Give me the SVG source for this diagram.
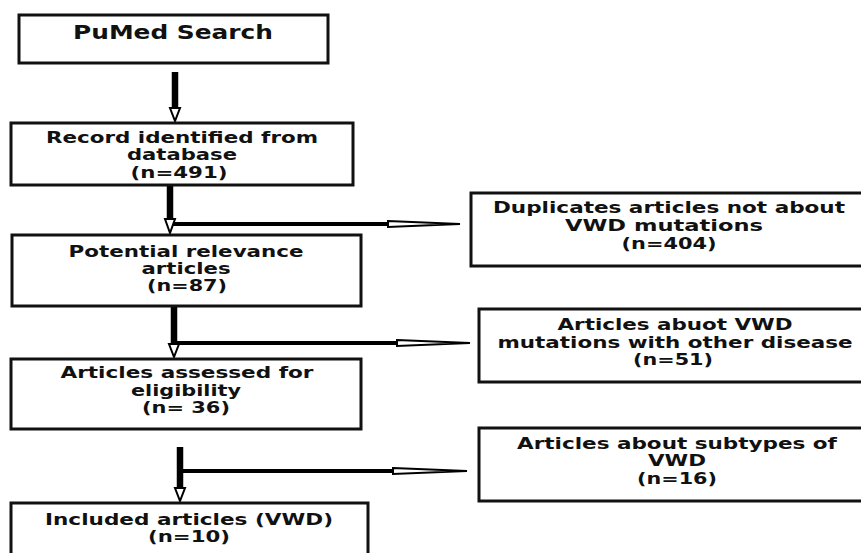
<svg xmlns="http://www.w3.org/2000/svg" width="861" height="553" viewBox="0 0 861 553">
<style>
.box{fill:#fff;stroke:#111;stroke-width:3}
.t{font-family:"DejaVu Sans","Liberation Sans",sans-serif;font-weight:bold;font-size:15px;fill:#111;text-anchor:middle}
.big{font-size:19px}
.shaft{stroke:#000;stroke-width:6.5;fill:none}
.hline{stroke:#000;stroke-width:4;fill:none}
.head{fill:#fff;stroke:#000;stroke-width:2;stroke-linejoin:miter}
</style>
<rect width="861" height="553" fill="#fff"/>
<g id="connectors">
<line class="shaft" x1="175" y1="72" x2="175" y2="110"/>
<polygon class="head" points="170,108 180,108 175,121"/>
<line class="shaft" x1="170" y1="185" x2="170" y2="220"/>
<polygon class="head" points="165,219 175,219 170,233"/>
<line class="hline" x1="173" y1="224" x2="389" y2="224"/>
<polygon class="head" points="388,221 460,224 388,227"/>
<line class="shaft" x1="174" y1="306" x2="174" y2="346"/>
<polygon class="head" points="169,344 179,344 174,357"/>
<line class="hline" x1="177" y1="343" x2="398" y2="343"/>
<polygon class="head" points="397,340 470,343 397,346"/>
<line class="shaft" x1="180" y1="447" x2="180" y2="490"/>
<polygon class="head" points="175,488 185,488 180,501"/>
<line class="hline" x1="183" y1="471" x2="394" y2="471"/>
<polygon class="head" points="393,468 467,471 393,474"/>
</g>
<g id="pubmed">
<rect class="box" x="19" y="15" width="309" height="48"/>
<text class="t big" x="173" y="39" textLength="200" lengthAdjust="spacingAndGlyphs">PuMed Search</text>
</g>
<g id="record">
<rect class="box" x="11" y="123" width="342" height="62"/>
<text class="t" x="182" y="143" textLength="272" lengthAdjust="spacingAndGlyphs">Record identified from</text>
<text class="t" x="182" y="160" textLength="110" lengthAdjust="spacingAndGlyphs">database</text>
<text class="t" x="179" y="178" textLength="97" lengthAdjust="spacingAndGlyphs">(n=491)</text>
</g>
<g id="potential">
<rect class="box" x="12" y="235" width="349" height="71"/>
<text class="t" x="186" y="257" textLength="235" lengthAdjust="spacingAndGlyphs">Potential relevance</text>
<text class="t" x="186" y="274" textLength="89" lengthAdjust="spacingAndGlyphs">articles</text>
<text class="t" x="187" y="291" textLength="80" lengthAdjust="spacingAndGlyphs">(n=87)</text>
</g>
<g id="duplicates">
<rect class="box" x="471" y="193" width="400" height="73"/>
<text class="t" x="669" y="213" textLength="352" lengthAdjust="spacingAndGlyphs">Duplicates articles not about</text>
<text class="t" x="664" y="231" textLength="198" lengthAdjust="spacingAndGlyphs">VWD mutations</text>
<text class="t" x="669" y="249" textLength="95" lengthAdjust="spacingAndGlyphs">(n=404)</text>
</g>
<g id="assessed">
<rect class="box" x="11" y="359" width="350" height="70"/>
<text class="t" x="187" y="378" textLength="253" lengthAdjust="spacingAndGlyphs">Articles assessed for</text>
<text class="t" x="186" y="396" textLength="110" lengthAdjust="spacingAndGlyphs">eligibility</text>
<text class="t" x="186" y="413" textLength="88" lengthAdjust="spacingAndGlyphs">(n= 36)</text>
</g>
<g id="other-disease">
<rect class="box" x="479" y="309" width="392" height="73"/>
<text class="t" x="675" y="330" textLength="235" lengthAdjust="spacingAndGlyphs">Articles abuot VWD</text>
<text class="t" x="675" y="348" textLength="355" lengthAdjust="spacingAndGlyphs">mutations with other disease</text>
<text class="t" x="673" y="365" textLength="80" lengthAdjust="spacingAndGlyphs">(n=51)</text>
</g>
<g id="subtypes">
<rect class="box" x="479" y="428" width="392" height="73"/>
<text class="t" x="677" y="449" textLength="320" lengthAdjust="spacingAndGlyphs">Articles about subtypes of</text>
<text class="t" x="677" y="466" textLength="58" lengthAdjust="spacingAndGlyphs">VWD</text>
<text class="t" x="677" y="484" textLength="80" lengthAdjust="spacingAndGlyphs">(n=16)</text>
</g>
<g id="included">
<rect class="box" x="11" y="503" width="357" height="60"/>
<text class="t" x="189" y="525" textLength="288" lengthAdjust="spacingAndGlyphs">Included articles (VWD)</text>
<text class="t" x="189" y="542" textLength="82" lengthAdjust="spacingAndGlyphs">(n=10)</text>
</g>
</svg>
